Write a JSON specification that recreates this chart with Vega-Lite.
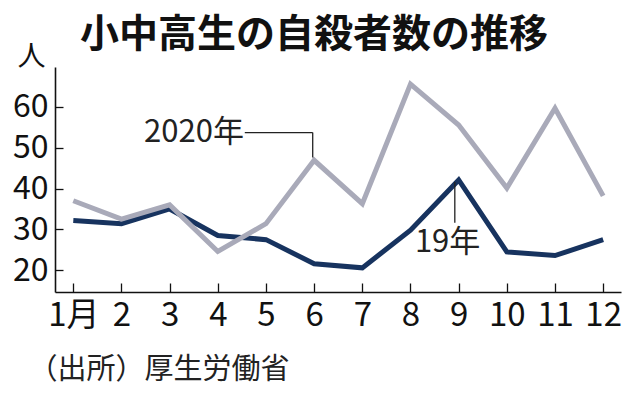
{
  "$schema": "https://vega.github.io/schema/vega-lite/v6.json",
  "width": 566,
  "height": 225,
  "autosize": {"type": "none"},
  "padding": {"left": 55, "top": 67, "right": 17, "bottom": 103},
  "background": "white",
  "config": {"view": {"stroke": null}},
  "title": {
    "text": "小中高生の自殺者数の推移",
    "font": "Noto Sans CJK JP",
    "fontWeight": "bold",
    "fontSize": 39,
    "color": "#111111",
    "anchor": "start",
    "frame": "group",
    "dx": 25,
    "offset": -12
  },
  "datasets": {
    "series": [
      {"month": 1, "year": "2019", "value": 32.2},
      {"month": 2, "year": "2019", "value": 31.4},
      {"month": 3, "year": "2019", "value": 35.0},
      {"month": 4, "year": "2019", "value": 28.5},
      {"month": 5, "year": "2019", "value": 27.5},
      {"month": 6, "year": "2019", "value": 21.6},
      {"month": 7, "year": "2019", "value": 20.6},
      {"month": 8, "year": "2019", "value": 29.8},
      {"month": 9, "year": "2019", "value": 42.1},
      {"month": 10, "year": "2019", "value": 24.5},
      {"month": 11, "year": "2019", "value": 23.6},
      {"month": 12, "year": "2019", "value": 27.5},
      {"month": 1, "year": "2020", "value": 37.0},
      {"month": 2, "year": "2020", "value": 32.5},
      {"month": 3, "year": "2020", "value": 36.0},
      {"month": 4, "year": "2020", "value": 24.6},
      {"month": 5, "year": "2020", "value": 31.4},
      {"month": 6, "year": "2020", "value": 46.9},
      {"month": 7, "year": "2020", "value": 36.3},
      {"month": 8, "year": "2020", "value": 65.5},
      {"month": 9, "year": "2020", "value": 55.5},
      {"month": 10, "year": "2020", "value": 40.1},
      {"month": 11, "year": "2020", "value": 59.6},
      {"month": 12, "year": "2020", "value": 38.2}
    ],
    "leaders": [
      {"x": 4.56, "x2": 5.97, "y": 53.66, "y2": 53.66},
      {"x": 5.97, "x2": 5.97, "y": 53.66, "y2": 47.6},
      {"x": 8.92, "x2": 8.92, "y": 41.6, "y2": 31.6}
    ],
    "labels": [
      {"x": 3.505, "y": 53.6, "text": "2020年"},
      {"x": 8.77, "y": 26.6, "text": "19年"}
    ]
  },
  "layer": [
    {
      "data": {"name": "series"},
      "transform": [{"filter": "datum.year == '2019'"}],
      "mark": {"type": "line", "strokeWidth": 5, "color": "#17335f", "strokeJoin": "miter", "clip": true},
      "encoding": {
        "x": {
          "field": "month",
          "type": "quantitative",
          "scale": {"domain": [0.62, 12.37], "nice": false, "zero": false},
          "axis": {
            "values": [1, 2, 3, 4, 5, 6, 7, 8, 9, 10, 11, 12],
            "labelExpr": "datum.value == 1 ? '1月' : datum.label",
            "grid": false,
            "domainColor": "#111111",
            "domainWidth": 1.6,
            "tickColor": "#111111",
            "tickWidth": 1.3,
            "tickSize": -9,
            "labelPadding": 16,
            "labelFont": "Liberation Sans Narrow, Noto Sans CJK JP",
            "labelFontSize": 33,
            "labelColor": "#111111",
            "labelFlush": false,
            "labelOverlap": false,
            "title": "（出所）厚生労働省",
            "titleFont": "Noto Sans CJK JP",
            "titleFontSize": 29,
            "titleFontWeight": "normal",
            "titleColor": "#222222",
            "titleAlign": "left",
            "titleAnchor": "start",
            "titleBaseline": "alphabetic",
            "titleX": -27,
            "titleY": 86
          }
        },
        "y": {
          "field": "value",
          "type": "quantitative",
          "scale": {"domain": [14.7, 69.7], "nice": false, "zero": false},
          "axis": {
            "values": [20, 30, 40, 50, 60],
            "grid": false,
            "domainColor": "#111111",
            "domainWidth": 1.6,
            "tickColor": "#111111",
            "tickWidth": 1.3,
            "tickSize": -8,
            "labelPadding": 15,
            "labelFont": "Liberation Sans Narrow, Noto Sans CJK JP",
            "labelFontSize": 32,
            "labelColor": "#111111",
            "labelFlush": false,
            "labelOverlap": false,
            "title": "人",
            "titleFont": "Noto Sans CJK JP",
            "titleFontSize": 28,
            "titleFontWeight": "normal",
            "titleColor": "#111111",
            "titleAngle": 0,
            "titleAlign": "center",
            "titleBaseline": "alphabetic",
            "titleX": -24,
            "titleY": -2
          }
        }
      }
    },
    {
      "data": {"name": "series"},
      "transform": [{"filter": "datum.year == '2020'"}],
      "mark": {"type": "line", "strokeWidth": 5, "color": "#a9aab9", "strokeJoin": "miter", "clip": true},
      "encoding": {
        "x": {"field": "month", "type": "quantitative"},
        "y": {"field": "value", "type": "quantitative"}
      }
    },
    {
      "data": {"name": "leaders"},
      "mark": {"type": "rule", "color": "#222222", "strokeWidth": 1.3},
      "encoding": {
        "x": {"field": "x", "type": "quantitative"},
        "x2": {"field": "x2"},
        "y": {"field": "y", "type": "quantitative"},
        "y2": {"field": "y2"}
      }
    },
    {
      "data": {"name": "labels"},
      "mark": {"type": "text", "font": "Noto Sans CJK JP", "fontSize": 31, "color": "#222222", "align": "center", "baseline": "middle"},
      "encoding": {
        "x": {"field": "x", "type": "quantitative"},
        "y": {"field": "y", "type": "quantitative"},
        "text": {"field": "text"}
      }
    }
  ]
}
